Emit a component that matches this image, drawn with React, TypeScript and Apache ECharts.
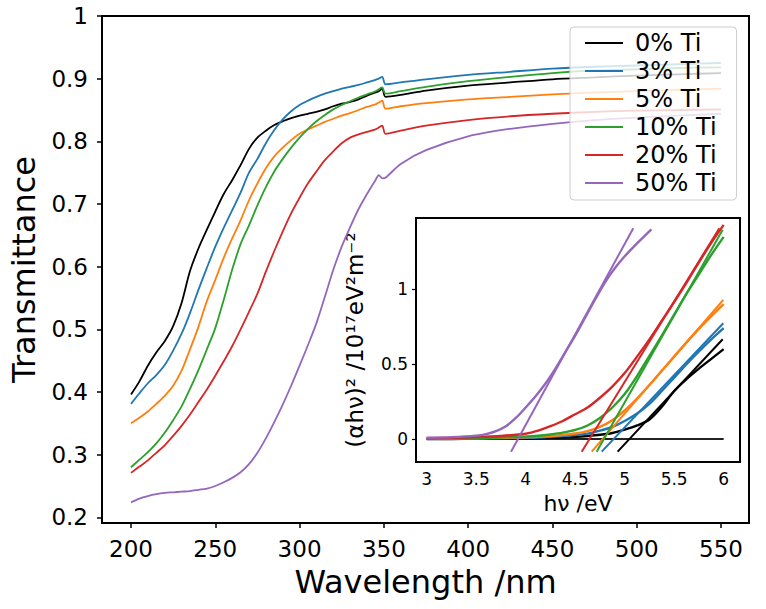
import React, { useEffect, useRef } from "react";
import * as echarts from "echarts";

// ---------- Main plot data (transmittance vs wavelength) ----------
const wavelength = [200, 205, 210, 215, 220, 225, 230, 235, 240, 245, 250, 255, 260, 265, 270, 275, 280, 285, 290, 295, 300, 305, 310, 315, 320, 325, 330, 335, 340, 345, 347, 349, 351, 360, 375, 400, 425, 450, 475, 500, 525, 550];

const seriesNames = ["0% Ti", "3% Ti", "5% Ti", "10% Ti", "20% Ti", "50% Ti"];
const seriesColors = ["#000000", "#1f77b4", "#ff7f0e", "#2ca02c", "#d62728", "#9467bd"];

const t0 = [0.396, 0.417, 0.442, 0.463, 0.481, 0.505, 0.542, 0.593, 0.629, 0.659, 0.688, 0.716, 0.738, 0.762, 0.788, 0.806, 0.817, 0.826, 0.832, 0.837, 0.841, 0.844, 0.847, 0.851, 0.856, 0.860, 0.863, 0.867, 0.873, 0.878, 0.880, 0.884, 0.871, 0.874, 0.881, 0.889, 0.894, 0.899, 0.902, 0.905, 0.907, 0.909];
const t3 = [0.381, 0.398, 0.414, 0.427, 0.443, 0.466, 0.493, 0.526, 0.563, 0.598, 0.632, 0.662, 0.690, 0.718, 0.750, 0.772, 0.797, 0.818, 0.835, 0.848, 0.858, 0.865, 0.871, 0.876, 0.880, 0.884, 0.887, 0.890, 0.894, 0.898, 0.900, 0.903, 0.891, 0.894, 0.899, 0.906, 0.911, 0.916, 0.919, 0.921, 0.923, 0.925];
const t5 = [0.350, 0.359, 0.369, 0.381, 0.394, 0.410, 0.434, 0.468, 0.504, 0.545, 0.579, 0.614, 0.645, 0.674, 0.706, 0.733, 0.757, 0.776, 0.790, 0.802, 0.812, 0.819, 0.825, 0.831, 0.836, 0.841, 0.845, 0.850, 0.855, 0.859, 0.862, 0.865, 0.852, 0.856, 0.861, 0.867, 0.871, 0.875, 0.878, 0.880, 0.882, 0.884];
const t10 = [0.280, 0.292, 0.304, 0.318, 0.335, 0.355, 0.377, 0.405, 0.435, 0.468, 0.502, 0.547, 0.595, 0.636, 0.666, 0.698, 0.727, 0.752, 0.772, 0.790, 0.806, 0.820, 0.832, 0.842, 0.851, 0.858, 0.864, 0.870, 0.875, 0.880, 0.883, 0.886, 0.876, 0.880, 0.887, 0.896, 0.903, 0.909, 0.913, 0.915, 0.917, 0.918];
const t20 = [0.271, 0.281, 0.291, 0.303, 0.315, 0.330, 0.346, 0.364, 0.384, 0.404, 0.426, 0.449, 0.473, 0.500, 0.528, 0.557, 0.592, 0.625, 0.656, 0.685, 0.710, 0.733, 0.752, 0.770, 0.784, 0.797, 0.806, 0.811, 0.815, 0.819, 0.822, 0.825, 0.812, 0.817, 0.825, 0.834, 0.840, 0.844, 0.847, 0.849, 0.850, 0.851];
const t50 = [0.224, 0.230, 0.234, 0.237, 0.239, 0.240, 0.241, 0.242, 0.244, 0.246, 0.250, 0.256, 0.263, 0.272, 0.285, 0.303, 0.326, 0.352, 0.380, 0.410, 0.442, 0.475, 0.510, 0.552, 0.595, 0.632, 0.663, 0.692, 0.716, 0.738, 0.746, 0.741, 0.742, 0.764, 0.786, 0.808, 0.820, 0.828, 0.834, 0.838, 0.841, 0.844];
const mainValues = [t0, t3, t5, t10, t20, t50];

const mainXTicks = [200, 250, 300, 350, 400, 450, 500, 550];
const mainYTicks = [0.2, 0.3, 0.4, 0.5, 0.6, 0.7, 0.8, 0.9, 1];

// ---------- Inset data (Tauc plot) ----------
const hv = [3.0, 3.25, 3.5, 3.75, 4.0, 4.125, 4.25, 4.375, 4.5, 4.625, 4.75, 4.875, 5.0, 5.125, 5.25, 5.375, 5.5, 5.625, 5.75, 5.875, 6.0];
const tauc0 = [0.0, 0.0, 0.001, 0.002, 0.003, 0.005, 0.007, 0.010, 0.014, 0.020, 0.028, 0.040, 0.062, 0.090, 0.130, 0.215, 0.320, 0.400, 0.470, 0.535, 0.600];
const tauc3 = [0.001, 0.002, 0.003, 0.005, 0.008, 0.010, 0.014, 0.019, 0.026, 0.036, 0.055, 0.080, 0.120, 0.170, 0.235, 0.320, 0.410, 0.500, 0.585, 0.665, 0.740];
const tauc5 = [0.002, 0.003, 0.005, 0.007, 0.011, 0.014, 0.019, 0.026, 0.036, 0.052, 0.080, 0.125, 0.190, 0.270, 0.360, 0.455, 0.550, 0.645, 0.735, 0.820, 0.900];
const tauc10 = [0.003, 0.004, 0.006, 0.010, 0.016, 0.021, 0.030, 0.042, 0.060, 0.090, 0.140, 0.210, 0.300, 0.420, 0.555, 0.690, 0.830, 0.970, 1.100, 1.230, 1.350];
const tauc20 = [0.005, 0.007, 0.012, 0.020, 0.035, 0.055, 0.085, 0.120, 0.165, 0.210, 0.275, 0.350, 0.440, 0.550, 0.665, 0.790, 0.915, 1.045, 1.180, 1.310, 1.430];
const hv50 = [3.0, 3.25, 3.5, 3.6, 3.7, 3.8, 3.9, 4.0, 4.1, 4.2, 4.3, 4.4, 4.5, 4.6, 4.7, 4.8, 4.9, 5.0, 5.1, 5.2, 5.27];
const tauc50 = [0.008, 0.012, 0.022, 0.032, 0.052, 0.085, 0.140, 0.210, 0.285, 0.370, 0.470, 0.580, 0.690, 0.810, 0.930, 1.045, 1.140, 1.220, 1.290, 1.355, 1.400];
const taucValues = [tauc0, tauc3, tauc5, tauc10, tauc20];

// linear fits: [hvStart, yStart, hvEnd, yEnd]
const fit0 = [4.929, -0.085, 5.99, 0.666];
const fit3 = [4.768, -0.085, 5.996, 0.773];
const fit5 = [4.667, -0.085, 5.996, 0.929];
const fit10 = [4.717, -0.085, 5.99, 1.397];
const fit20 = [4.566, -0.085, 5.956, 1.408];
const fit50 = [3.852, -0.085, 5.087, 1.408];
const fits = [fit0, fit3, fit5, fit10, fit20, fit50];
const baseline = [[3, 0], [6, 0]];

const insetXTicks = [3, 3.5, 4, 4.5, 5, 5.5, 6];
const insetYTicks = [0, 0.5, 1];

const FONT = "DejaVu Sans";

function buildOption() {
  const series: any[] = [];
  mainValues.forEach((vals, i) => {
    series.push({
      type: "line",
      name: seriesNames[i],
      xAxisIndex: 0,
      yAxisIndex: 0,
      data: wavelength.map((w, j) => [w, vals[j]]),
      symbol: "none",
      smooth: 0.3,
      lineStyle: { width: 1.8, color: seriesColors[i] },
      itemStyle: { color: seriesColors[i] },
      silent: true,
      z: 3,
    });
  });
  taucValues.forEach((vals, i) => {
    series.push({
      type: "line",
      name: seriesNames[i] + " Tauc",
      xAxisIndex: 1,
      yAxisIndex: 1,
      data: hv.map((h, j) => [h, vals[j]]),
      symbol: "none",
      smooth: 0.3,
      lineStyle: { width: 2.4, color: seriesColors[i] },
      itemStyle: { color: seriesColors[i] },
      silent: true,
      z: 5,
    });
  });
  series.push({
    type: "line",
    name: seriesNames[5] + " Tauc",
    xAxisIndex: 1,
    yAxisIndex: 1,
    data: hv50.map((h, j) => [h, tauc50[j]]),
    symbol: "none",
    smooth: 0.3,
    lineStyle: { width: 2.4, color: seriesColors[5] },
    itemStyle: { color: seriesColors[5] },
    silent: true,
    z: 5,
  });
  fits.forEach((f, i) => {
    series.push({
      type: "line",
      name: seriesNames[i] + " fit",
      xAxisIndex: 1,
      yAxisIndex: 1,
      data: [[f[0], f[1]], [f[2], f[3]]],
      symbol: "none",
      lineStyle: { width: 2, color: seriesColors[i] },
      itemStyle: { color: seriesColors[i] },
      silent: true,
      z: 6,
    });
  });
  series.push({
    type: "line",
    name: "baseline",
    xAxisIndex: 1,
    yAxisIndex: 1,
    data: baseline,
    symbol: "none",
    lineStyle: { width: 2, color: "#222222" },
    itemStyle: { color: "#222222" },
    silent: true,
    z: 4,
  });

  const tickStyle = { color: "#000", width: 1.5 };

  return {
    animation: false,
    backgroundColor: "#ffffff",
    textStyle: { fontFamily: FONT },
    grid: [
      { left: 102, top: 16, width: 647, height: 507, show: true, borderColor: "#000", borderWidth: 2, backgroundColor: "transparent" },
      { left: 416, top: 218, width: 324, height: 244, show: true, borderColor: "#000", borderWidth: 2, backgroundColor: "#ffffff", z: 4 },
    ],
    legend: {
      data: seriesNames,
      orient: "vertical",
      left: 570,
      top: 27,
      icon: "rect",
      itemWidth: 38,
      itemHeight: 2,
      itemGap: 2,
      padding: [3, 20, 4, 15],
      backgroundColor: "rgba(255,255,255,0.8)",
      borderColor: "#cccccc",
      borderWidth: 1,
      borderRadius: 4,
      selectedMode: false,
      textStyle: { fontFamily: FONT, fontSize: 24, color: "#000", lineHeight: 26, padding: [0, 0, 0, 7] },
      z: 10,
    },
    xAxis: [
      {
        type: "value",
        gridIndex: 0,
        min: 182.8,
        max: 566.6,
        name: "Wavelength /nm",
        nameLocation: "middle",
        nameGap: 43,
        nameTextStyle: { fontFamily: FONT, fontSize: 32, color: "#000" },
        axisLine: { show: false },
        splitLine: { show: false },
        axisTick: { show: true, length: 5, lineStyle: tickStyle, customValues: mainXTicks },
        axisLabel: { fontFamily: FONT, fontSize: 23, color: "#000", margin: 14, customValues: mainXTicks, formatter: (v: number) => String(v) },
      },
      {
        type: "value",
        gridIndex: 1,
        min: 2.892,
        max: 6.165,
        name: "hν /eV",
        nameLocation: "middle",
        nameGap: 30,
        nameTextStyle: { fontFamily: FONT, fontSize: 22, color: "#000" },
        axisLine: { show: false },
        splitLine: { show: false },
        axisTick: { show: true, length: 4, lineStyle: { color: "#000", width: 1.2 }, customValues: insetXTicks },
        axisLabel: { fontFamily: FONT, fontSize: 17, color: "#000", margin: 8, customValues: insetXTicks, formatter: (v: number) => String(v) },
      },
    ],
    yAxis: [
      {
        type: "value",
        gridIndex: 0,
        min: 0.191,
        max: 1.0,
        name: "Transmittance",
        nameLocation: "middle",
        nameGap: 62,
        nameTextStyle: { fontFamily: FONT, fontSize: 32, color: "#000" },
        axisLine: { show: false },
        splitLine: { show: false },
        axisTick: { show: true, length: 5, lineStyle: tickStyle, customValues: mainYTicks },
        axisLabel: {
          fontFamily: FONT, fontSize: 23, color: "#000", margin: 14, customValues: mainYTicks,
          formatter: (v: number) => (Math.abs(v - 1) < 1e-9 ? "1" : v.toFixed(1)),
        },
      },
      {
        type: "value",
        gridIndex: 1,
        min: -0.154,
        max: 1.476,
        name: "(αhν)² /10¹⁷eV²m⁻²",
        nameLocation: "middle",
        nameGap: 50,
        nameTextStyle: { fontFamily: FONT, fontSize: 23, color: "#000" },
        axisLine: { show: false },
        splitLine: { show: false },
        axisTick: { show: true, length: 4, lineStyle: { color: "#000", width: 1.2 }, customValues: insetYTicks },
        axisLabel: {
          fontFamily: FONT, fontSize: 17, color: "#000", margin: 8, customValues: insetYTicks,
          formatter: (v: number) => (v === 0 ? "0" : v === 1 ? "1" : String(v)),
        },
      },
    ],
    series,
  };
}

export default function App() {
  const ref = useRef<HTMLDivElement>(null);
  useEffect(() => {
    if (!ref.current) return;
    const chart = echarts.init(ref.current, null, { renderer: "svg" });
    chart.setOption(buildOption() as any);
    return () => chart.dispose();
  }, []);
  return (
    <div
      ref={ref}
      style={{ position: "fixed", left: 0, top: 0, width: 766, height: 609, background: "#ffffff" }}
    />
  );
}
